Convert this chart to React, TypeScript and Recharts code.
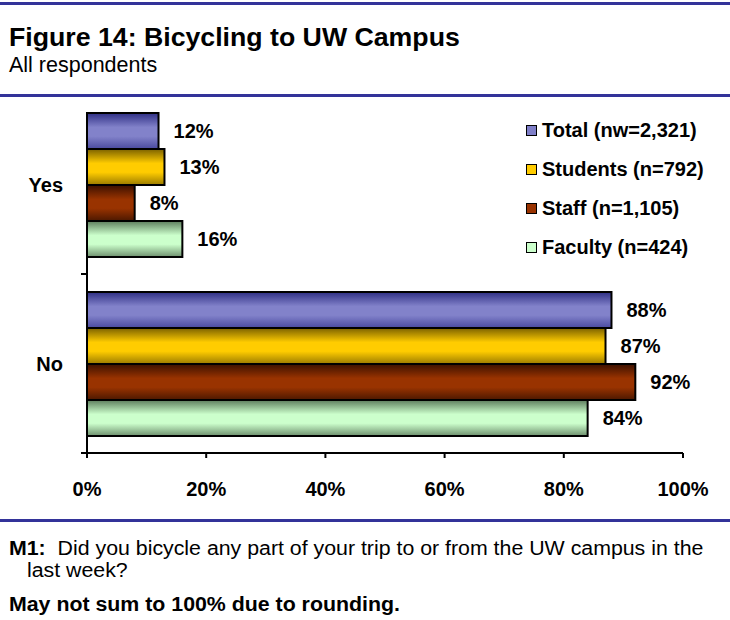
import React from 'react';
import { BarChart, Bar, XAxis, YAxis, Legend, LabelList } from 'recharts';

const categories = ['Yes', 'No'];
const totalValues = [12, 88];
const studentValues = [13, 87];
const staffValues = [8, 92];
const facultyValues = [16, 84];
const xTicks = [0, 20, 40, 60, 80, 100];

const seriesKeys = ['total', 'students', 'staff', 'faculty'];
const seriesNames = ['Total (nw=2,321)', 'Students (n=792)', 'Staff (n=1,105)', 'Faculty (n=424)'];
const swatchColors = ['#7f7fc8', '#ffcc00', '#993300', '#ccffcc'];
// top / middle / bottom shades of each bar's "3D" fill
const shades = [
  ['#2e2e84', '#8282ca', '#4a4aa0'],
  ['#7a6000', '#ffcc00', '#9c7c00'],
  ['#3a1000', '#993300', '#4c1800'],
  ['#5c7c5c', '#ccffcc', '#6e906e'],
];

const data = categories.map((name, i) => ({
  name,
  total: totalValues[i],
  students: studentValues[i],
  staff: staffValues[i],
  faculty: facultyValues[i],
}));

const FONT = '"Liberation Sans", Arial, Helvetica, sans-serif';
const RULE = '#333399';

// category label + boundary tick; also draws the value axis line for its band
// (the original plot is cut off just above the first bar)
const CategoryTick = (props: any) => {
  const { x, y, payload, index } = props;
  const half = payload && payload.offset ? payload.offset : 89;
  const ax = x + 24;
  const top = index === 0 ? y - half * 0.8 : y - half;
  return (
    <g>
      <line x1={ax} x2={ax} y1={top} y2={y + half} stroke="#000" strokeWidth={2} />
      <line x1={ax - 6} x2={ax} y1={y + half} y2={y + half} stroke="#000" strokeWidth={2} />
      <text x={x} y={y} dy={7} textAnchor="end" fontSize={20} fontWeight="bold" fill="#000">
        {payload.value}
      </text>
    </g>
  );
};

const LegendContent = (props: any) => {
  const items = (props.payload || []).slice().sort(
    (a: any, b: any) => seriesKeys.indexOf(a.dataKey) - seriesKeys.indexOf(b.dataKey)
  );
  return (
    <div>
      {items.map((item: any) => {
        const idx = seriesKeys.indexOf(item.dataKey);
        return (
          <div key={item.dataKey} style={{ display: 'flex', alignItems: 'center', height: 39 }}>
            <span
              style={{
                display: 'inline-block',
                width: 9,
                height: 9,
                border: '1.5px solid #000',
                background: swatchColors[idx],
                marginRight: 5,
              }}
            />
            <span style={{ fontSize: 20, fontWeight: 'bold', color: '#000', whiteSpace: 'nowrap' }}>
              {item.value}
            </span>
          </div>
        );
      })}
    </div>
  );
};

const noteStyle: React.CSSProperties = {
  position: 'absolute',
  fontSize: 20,
  lineHeight: '22px',
  whiteSpace: 'nowrap',
  transform: 'scaleX(1.066)',
  transformOrigin: 'left center',
};

const App: React.FC = () => {
  return (
    <div style={{ position: 'relative', width: 730, height: 620, background: '#fff', fontFamily: FONT, overflow: 'hidden' }}>
      <style>{'body{margin:0}'}</style>
      <div style={{ position: 'absolute', left: 0, top: 2, width: 730, height: 3, background: RULE }} />
      <div style={{ position: 'absolute', left: 9, top: 24, fontSize: 26.7, lineHeight: '27px', fontWeight: 'bold', whiteSpace: 'nowrap' }}>
        Figure 14: Bicycling to UW Campus
      </div>
      <div style={{ position: 'absolute', left: 9, top: 55, fontSize: 21.5, lineHeight: '21px', whiteSpace: 'nowrap' }}>
        All respondents
      </div>
      <div style={{ position: 'absolute', left: 0, top: 94, width: 730, height: 3, background: RULE }} />

      <div style={{ position: 'absolute', left: 0, top: 95 }}>
        <BarChart
          width={730}
          height={425}
          data={data}
          layout="vertical"
          barCategoryGap="10%"
          barGap={0}
          margin={{ top: 0, right: 47, bottom: 22, left: 7 }}
        >
          <defs>
            {seriesKeys.map((key, i) => (
              <linearGradient key={key} id={`grad-${key}`} x1="0" y1="0" x2="0" y2="1">
                <stop offset="0%" stopColor={shades[i][0]} />
                <stop offset="40%" stopColor={shades[i][1]} />
                <stop offset="65%" stopColor={shades[i][1]} />
                <stop offset="100%" stopColor={shades[i][2]} />
              </linearGradient>
            ))}
          </defs>
          <XAxis
            type="number"
            domain={[0, 100]}
            ticks={xTicks}
            tickFormatter={(v) => `${v}%`}
            axisLine={{ stroke: '#000', strokeWidth: 2 }}
            tickLine={{ stroke: '#000', strokeWidth: 2 }}
            tickSize={5}
            tickMargin={24}
            height={45}
            tick={{ fill: '#000', fontSize: 20, fontWeight: 'bold' }}
          />
          <YAxis
            type="category"
            dataKey="name"
            width={80}
            axisLine={false}
            tickLine={false}
            tickSize={0}
            tickMargin={24}
            tick={<CategoryTick />}
          />
          <Legend
            layout="vertical"
            align="center"
            verticalAlign="middle"
            content={<LegendContent />}
            wrapperStyle={{ left: 526, top: 16, width: 200 }}
          />
          {seriesKeys.map((key, i) => (
            <Bar
              key={key}
              dataKey={key}
              name={seriesNames[i]}
              fill={`url(#grad-${key})`}
              stroke="#000"
              strokeWidth={2}
              isAnimationActive={false}
            >
              <LabelList
                dataKey={key}
                position="right"
                offset={15}
                formatter={(v: any) => `${v}%`}
                style={{ fill: '#000', fontSize: 20, fontWeight: 'bold' }}
              />
            </Bar>
          ))}
        </BarChart>
      </div>

      <div style={{ position: 'absolute', left: 0, top: 519, width: 730, height: 3, background: RULE }} />
      <div style={{ ...noteStyle, left: 9, top: 537 }}>
        <b>M1:</b>&nbsp; Did you bicycle any part of your trip to or from the UW campus in the
      </div>
      <div style={{ ...noteStyle, left: 27, top: 559 }}>last week?</div>
      <div style={{ ...noteStyle, left: 9, top: 593, fontWeight: 'bold' }}>
        May not sum to 100% due to rounding.
      </div>
    </div>
  );
};

export default App;
